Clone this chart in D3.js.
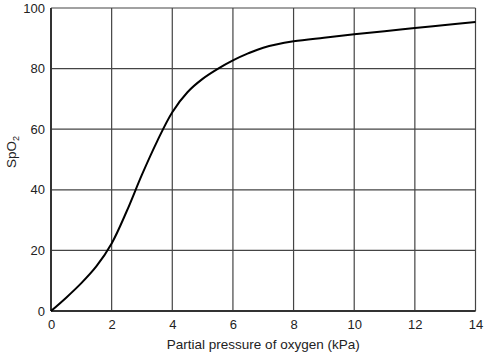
<!DOCTYPE html>
<html>
<head>
<meta charset="utf-8">
<script src="https://cdn.jsdelivr.net/npm/d3@7"></script>
<style>
  body { margin: 0; background: #fff; }
  text { font-family: "Liberation Sans", Arial, sans-serif; }
</style>
</head>
<body>
<div id="chart"></div>
<script>
// Oxygen dissociation curve
const pressure = [0, 0.5, 1, 1.5, 2, 2.5, 3, 3.5, 4, 4.5, 5, 5.5, 6, 6.5, 7, 8, 9, 10, 11, 12, 13, 14];
const spo2 = [0, 4.4, 9.2, 14.8, 22.3, 33, 45, 56, 65.6, 72.2, 76.6, 79.9, 82.7, 85, 86.9, 89, 90.2, 91.3, 92.3, 93.4, 94.4, 95.4];
const xTicks = [0, 2, 4, 6, 8, 10, 12, 14];
const yTicks = [0, 20, 40, 60, 80, 100];

const width = 485;
const height = 352;
const margin = { top: 8, right: 9.5, bottom: 41, left: 51 };

const x = d3.scaleLinear().domain([0, 14]).range([margin.left, width - margin.right]);
const y = d3.scaleLinear().domain([0, 100]).range([height - margin.bottom, margin.top]);

const svg = d3.select("#chart")
    .append("svg")
    .attr("width", width)
    .attr("height", height);

// grid
svg.append("g")
    .selectAll("line")
    .data(xTicks)
    .enter()
    .append("line")
    .attr("x1", d => x(d)).attr("x2", d => x(d))
    .attr("y1", y(0)).attr("y2", y(100))
    .attr("stroke", "#444")
    .attr("stroke-width", 1.2);

svg.append("g")
    .selectAll("line")
    .data(yTicks)
    .enter()
    .append("line")
    .attr("x1", x(0)).attr("x2", x(14))
    .attr("y1", d => y(d)).attr("y2", d => y(d))
    .attr("stroke", "#444")
    .attr("stroke-width", 1.2);

// axes frame (left and bottom a bit heavier)
svg.append("line")
    .attr("x1", x(0)).attr("x2", x(0))
    .attr("y1", y(0)).attr("y2", y(100))
    .attr("stroke", "#333").attr("stroke-width", 2);
svg.append("line")
    .attr("x1", x(0)).attr("x2", x(14))
    .attr("y1", y(0)).attr("y2", y(0))
    .attr("stroke", "#333").attr("stroke-width", 2);

// tick labels
const xAxis = svg.append("g")
    .attr("transform", `translate(0, ${y(0)})`)
    .call(d3.axisBottom(x).tickValues(xTicks).tickSize(0).tickPadding(9));
const yAxis = svg.append("g")
    .attr("transform", `translate(${x(0)}, 0)`)
    .call(d3.axisLeft(y).tickValues(yTicks).tickSize(0).tickPadding(6));
[xAxis, yAxis].forEach(g => {
    g.select(".domain").remove();
    g.selectAll("text")
        .attr("font-family", "Liberation Sans, Arial, sans-serif")
        .attr("font-size", 13)
        .attr("fill", "#222");
});

// curve
const line = d3.line()
    .x((d, i) => x(pressure[i]))
    .y(d => y(d))
    .curve(d3.curveCatmullRom.alpha(0.5));

svg.append("path")
    .attr("d", line(spo2))
    .attr("fill", "none")
    .attr("stroke", "#000")
    .attr("stroke-width", 2);

// axis titles
svg.append("text")
    .attr("x", (x(0) + x(14)) / 2)
    .attr("y", 349)
    .attr("text-anchor", "middle")
    .attr("font-size", 13.5)
    .attr("fill", "#222")
    .text("Partial pressure of oxygen (kPa)");

const yLabel = svg.append("text")
    .attr("transform", "translate(16, 152) rotate(-90)")
    .attr("text-anchor", "middle")
    .attr("font-size", 13.5)
    .attr("fill", "#222");
yLabel.append("tspan").text("SpO");
yLabel.append("tspan").attr("font-size", 9).attr("dy", 3).text("2");
</script>
</body>
</html>
